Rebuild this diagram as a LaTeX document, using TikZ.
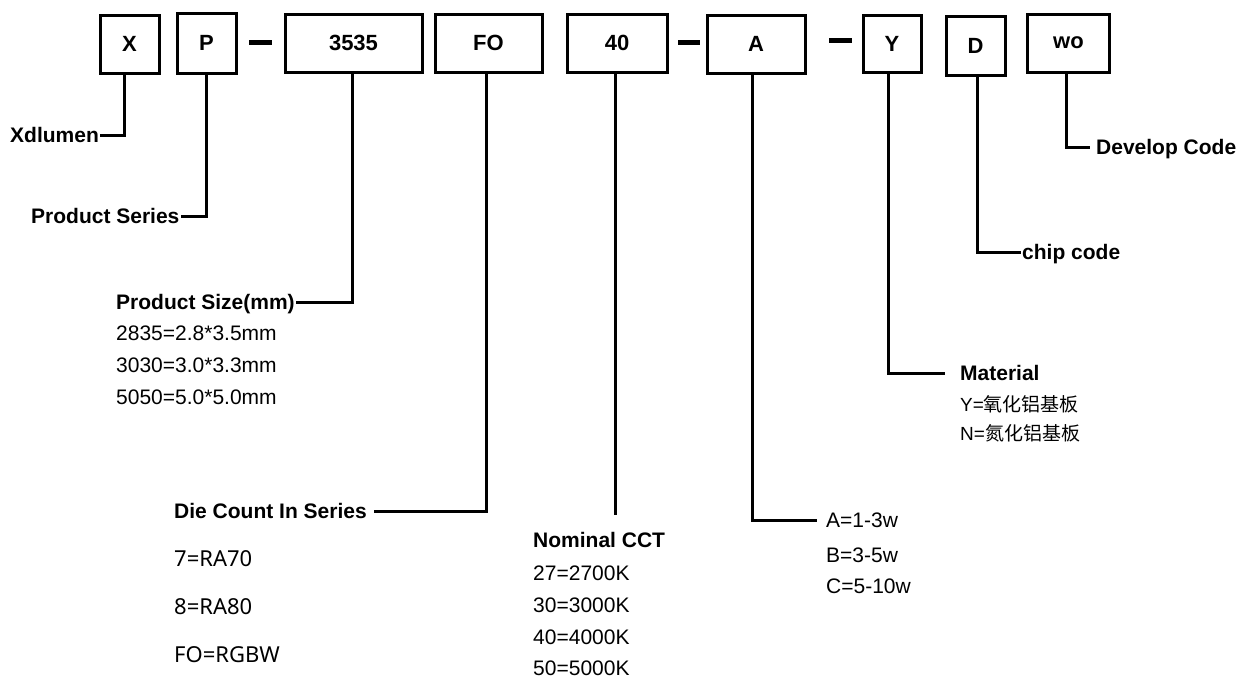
\documentclass[tikz,border=0pt]{standalone}
\usepackage{fontspec}
\setmainfont{Liberation Sans}
\newfontfamily\cjk{Noto Sans CJK SC}
\newfontfamily\notosans{Noto Sans}
\begin{document}
\begin{tikzpicture}[x=1pt,y=-1pt,
  box/.style={draw, line width=3pt, inner sep=0pt, font=\fontsize{22pt}{22pt}\selectfont\bfseries},
  lab/.style={font=\fontsize{21pt}{21pt}\selectfont\bfseries, inner sep=1pt, text height=15pt, text depth=0pt, anchor=west},
  val/.style={font=\fontsize{21pt}{21pt}\selectfont, inner sep=1pt, text height=15pt, text depth=0pt, anchor=west},
  valn/.style={font=\fontsize{22pt}{22pt}\selectfont\notosans, inner sep=1pt, text height=15.5pt, text depth=0pt, anchor=west},
  valc/.style={font=\fontsize{19pt}{19pt}\selectfont, inner sep=1pt, text height=14pt, text depth=0pt, anchor=west},
  conn/.style={draw, line width=3pt},
  sepbar/.style={draw, line width=5pt}]
\useasboundingbox[fill=white] (0,0) rectangle (1241,678);
% code boxes
\node[box, minimum width=59pt, minimum height=58pt] (X) at (129.5,44) {X};
\node[box, minimum width=59pt, minimum height=60pt] (P) at (206.5,43) {P};
\node[box, minimum width=137pt, minimum height=58pt] (S) at (353.5,43) {3535};
\node[box, minimum width=107pt, minimum height=58pt] (FO) at (488.5,43) {FO};
\node[box, minimum width=100pt, minimum height=58pt] (F40) at (617,43) {40};
\node[box, minimum width=98pt, minimum height=58pt] (A) at (756,44) {A};
\node[box, minimum width=58pt, minimum height=57pt] (Y) at (892,43.5) {Y};
\node[box, minimum width=59pt, minimum height=59pt] (D) at (975.5,45.5) {D};
\node[box, minimum width=82pt, minimum height=58pt] (wo) at (1068.5,43) {wo};
% separator dashes
\draw[sepbar] (249,42) -- (272,42);
\draw[sepbar] (678,42) -- (700,42);
\draw[sepbar] (829,40) -- (852,40);
% labels
\node[lab] (xdl) at (9,135) {Xdlumen};
\node[lab] (ps) at (30,216) {Product Series};
\node[lab] (psz) at (115,302) {Product Size(mm)};
\node[val] at (115,333) {2835=2.8*3.5mm};
\node[val] at (115,365) {3030=3.0*3.3mm};
\node[val] at (115,397) {5050=5.0*5.0mm};
\node[lab] (die) at (173,511) {Die Count In Series};
\node[valn] at (173,559) {7=RA70};
\node[valn] at (173,607) {8=RA80};
\node[valn] at (173,655) {FO=RGBW};
\node[lab] (cct) at (532,540) {Nominal CCT};
\node[val] at (532,573) {27=2700K};
\node[val] at (532,605) {30=3000K};
\node[val] at (532,637) {40=4000K};
\node[val] at (532,668) {50=5000K};
\node[val] (a1) at (825,520) {A=1-3w};
\node[val] at (825,555) {B=3-5w};
\node[val] at (825,586) {C=5-10w};
\node[lab] (mat) at (959,373) {Material};
\node[valc] at (959,404) {Y={\cjk 氧化铝基板}};
\node[valc] at (959,433) {N={\cjk 氮化铝基板}};
\node[lab] (chip) at (1021,252) {chip code};
\node[lab] (dev) at (1095,147) {Develop Code};
% connectors
\coordinate (cctend) at (615,515);
\draw[conn] ([xshift=-5.5pt]X.south) |- (xdl.east);
\draw[conn] (P.south) |- (ps.east);
\draw[conn] ([xshift=-1.5pt]S.south) |- (psz.east);
\draw[conn, shorten >=6pt] ([xshift=-2.5pt]FO.south) |- (die.east);
\draw[conn] (F40.south -| cctend) -- (cctend);
\draw[conn, shorten >=8pt] ([xshift=-4pt]A.south) |- (a1.west);
\draw[conn, shorten >=14pt] ([xshift=-4pt]Y.south) |- (mat.west);
\draw[conn] ([xshift=1.5pt]D.south) |- (chip.west);
\draw[conn, shorten >=5pt] ([xshift=-2.5pt]wo.south) |- (dev.west);
\end{tikzpicture}
\end{document}
